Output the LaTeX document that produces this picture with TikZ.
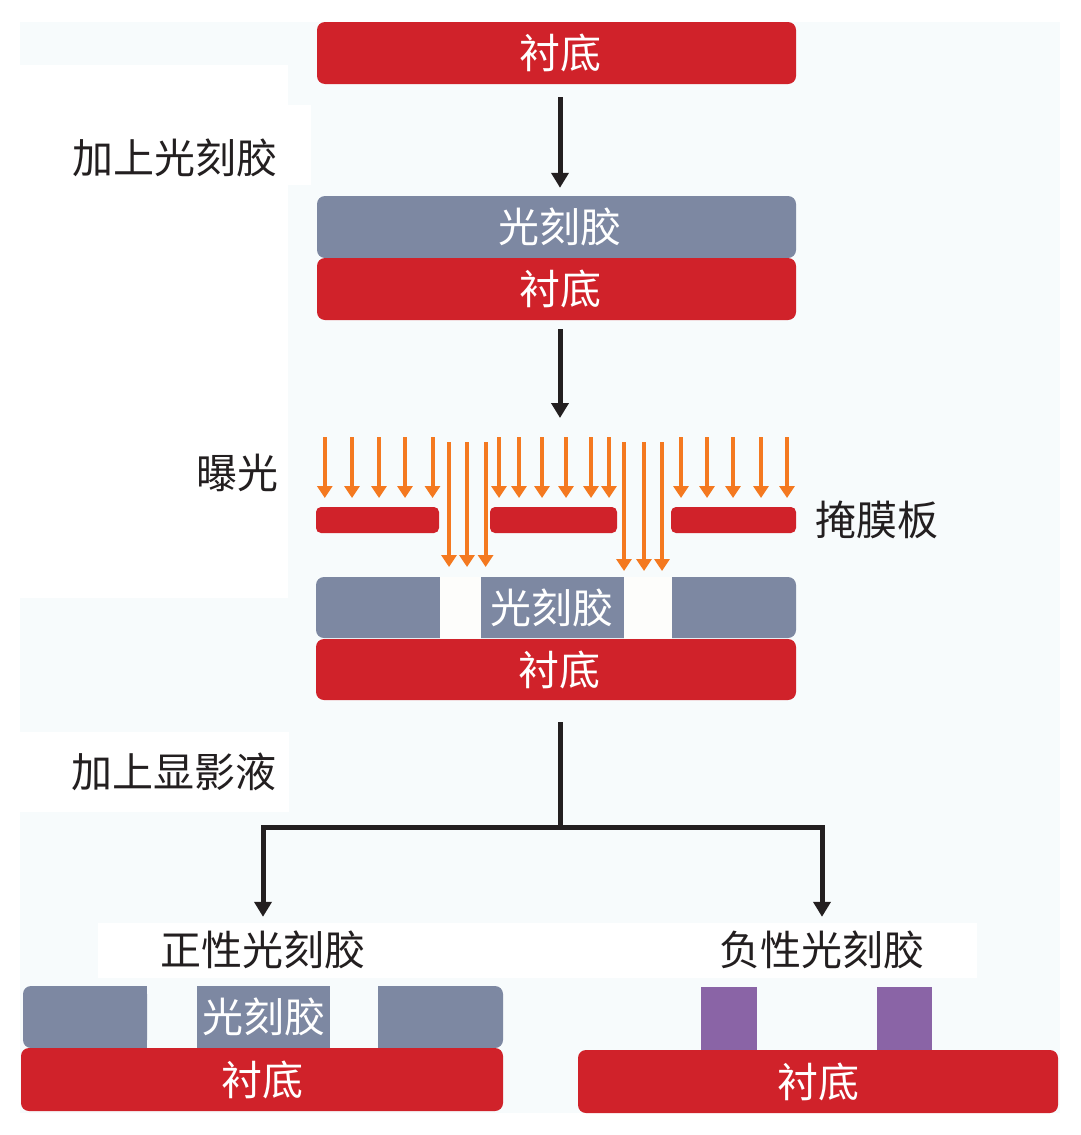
\documentclass[tikz,border=0pt]{standalone}
\usepackage{fontspec}
\newfontfamily\cjk{Noto Sans CJK SC}
\usetikzlibrary{arrows.meta}
\definecolor{subred}{RGB}{208,34,42}
\definecolor{resgray}{RGB}{125,136,162}
\definecolor{uvorange}{RGB}{244,121,32}
\definecolor{negpurple}{RGB}{138,100,166}
\definecolor{panelbg}{RGB}{247,251,252}
\definecolor{inkblack}{RGB}{35,31,32}
\definecolor{gapwhite}{RGB}{253,253,251}
\newcommand{\txtnudge}{\hspace*{7pt}}
\begin{document}
\begin{tikzpicture}[x=1pt,y=-1pt,
  txt/.style={font=\cjk\fontsize{41}{46}\selectfont, inner sep=0pt},
  layer/.style={txt, text=white, rounded corners=8pt, minimum height=62pt, inner sep=0pt},
  subst/.style={layer, fill=subred},
  resist/.style={layer, fill=resgray},
  maskbar/.style={fill=subred, rounded corners=5pt, minimum height=26pt, inner sep=0pt},
  lbl/.style={txt, text=inkblack},
  flow/.style={draw=inkblack, line width=5pt, line join=miter, -{Triangle[length=15pt,width=17pt]}},
  flowline/.style={draw=inkblack, line width=5pt},
  uv/.style={draw=uvorange, line width=4pt, -{Triangle[length=12pt,width=15pt]}},
]
\useasboundingbox (0,0) rectangle (1080,1135);
% background panels
\fill[panelbg] (20,22) rectangle (1060,1113);
\fill[white] (20,65) rectangle (288,598);
\fill[white] (20,105) rectangle (311,185);
\fill[white] (20,732) rectangle (289,812);
\fill[white] (98,923) rectangle (977,978);

% stage 1
\node[subst, minimum width=479pt] (s1) at (556.5,53) {\txtnudge 衬底};
% stage 2
\node[resist, minimum width=479pt] (r2) at (556.5,227) {\txtnudge 光刻胶};
\node[subst, minimum width=479pt] (s2) at (556.5,289) {\txtnudge 衬底};
% stage 3
\node[resist, minimum width=480pt, minimum height=61pt] (r3) at (556,607.5) {};
\fill[gapwhite] (440,577) rectangle (481,638.5);
\fill[gapwhite] (624,577) rectangle (671.5,638.5);
\node[txt, text=white] (r3t) at (552,608) {光刻胶};
\node[subst, minimum width=480pt, minimum height=61pt] (s3) at (556,669.5) {\txtnudge 衬底};
\node[maskbar, minimum width=123pt] (m1) at (377.5,520) {};
\node[maskbar, minimum width=127pt] (m2) at (553.5,520) {};
\node[maskbar, minimum width=125pt] (m3) at (733.5,520) {};
\foreach \xx in {324.8,352,379,405,432.5,499,519,542,566,591,609,681,707,733,761,787}
  \draw[uv] (\xx,437) -- (\xx,498);
\foreach \xx in {449,467,485.6}
  \draw[uv] (\xx,442) -- (\xx,567);
\foreach \xx in {624,644,662}
  \draw[uv] (\xx,442) -- (\xx,571);

% labels
\node[lbl] (l1) at (175,158) {加上光刻胶};
\node[lbl] (l2) at (237,473) {曝光};
\node[lbl] (l3) at (877,520) {掩膜板};
\node[lbl] (l4) at (174,772) {加上显影液};
\node[lbl, minimum height=55pt] (plab) at (263,950) {正性光刻胶};
\node[lbl, minimum height=55pt] (nlab) at (822,950) {负性光刻胶};

% positive resist result
\node[resist, minimum width=124pt] (pl) at (85,1017) {};
\fill[resgray] (120,986) rectangle (147,1048);
\node[txt, text=white, fill=resgray, minimum width=133pt, minimum height=62pt] (pm) at (263.5,1017) {光刻胶};
\node[resist, minimum width=125pt] (pr) at (440.5,1017) {};
\fill[resgray] (378,986) rectangle (405,1048);
\node[subst, minimum width=482pt, minimum height=63pt] (ps) at (262,1079.5) {衬底};

% negative resist result
\node[fill=negpurple, minimum width=56pt, minimum height=63pt, inner sep=0pt] (n1) at (729,1018.5) {};
\node[fill=negpurple, minimum width=55pt, minimum height=63pt, inner sep=0pt] (n2) at (904.5,1018.5) {};
\node[subst, minimum width=480pt, minimum height=63pt] (ns) at (818,1081.5) {衬底};

% flow connectors
\coordinate (cx) at (560,0);
\coordinate (e2) at (560,418);
\coordinate (br) at (560,827);
\draw[flow, shorten <=13pt, shorten >=8pt] (s1.south -| cx) -- (r2.north -| cx);
\draw[flow, shorten <=9pt] (s2.south -| cx) -- (e2);
\draw[flowline, shorten <=22pt] (s3.south -| cx) -- (br);
\draw[flow, shorten >=5.5pt] (br) -| (plab.north);
\draw[flow, shorten >=5.5pt] (br) -| (nlab.north);
\end{tikzpicture}
\end{document}
